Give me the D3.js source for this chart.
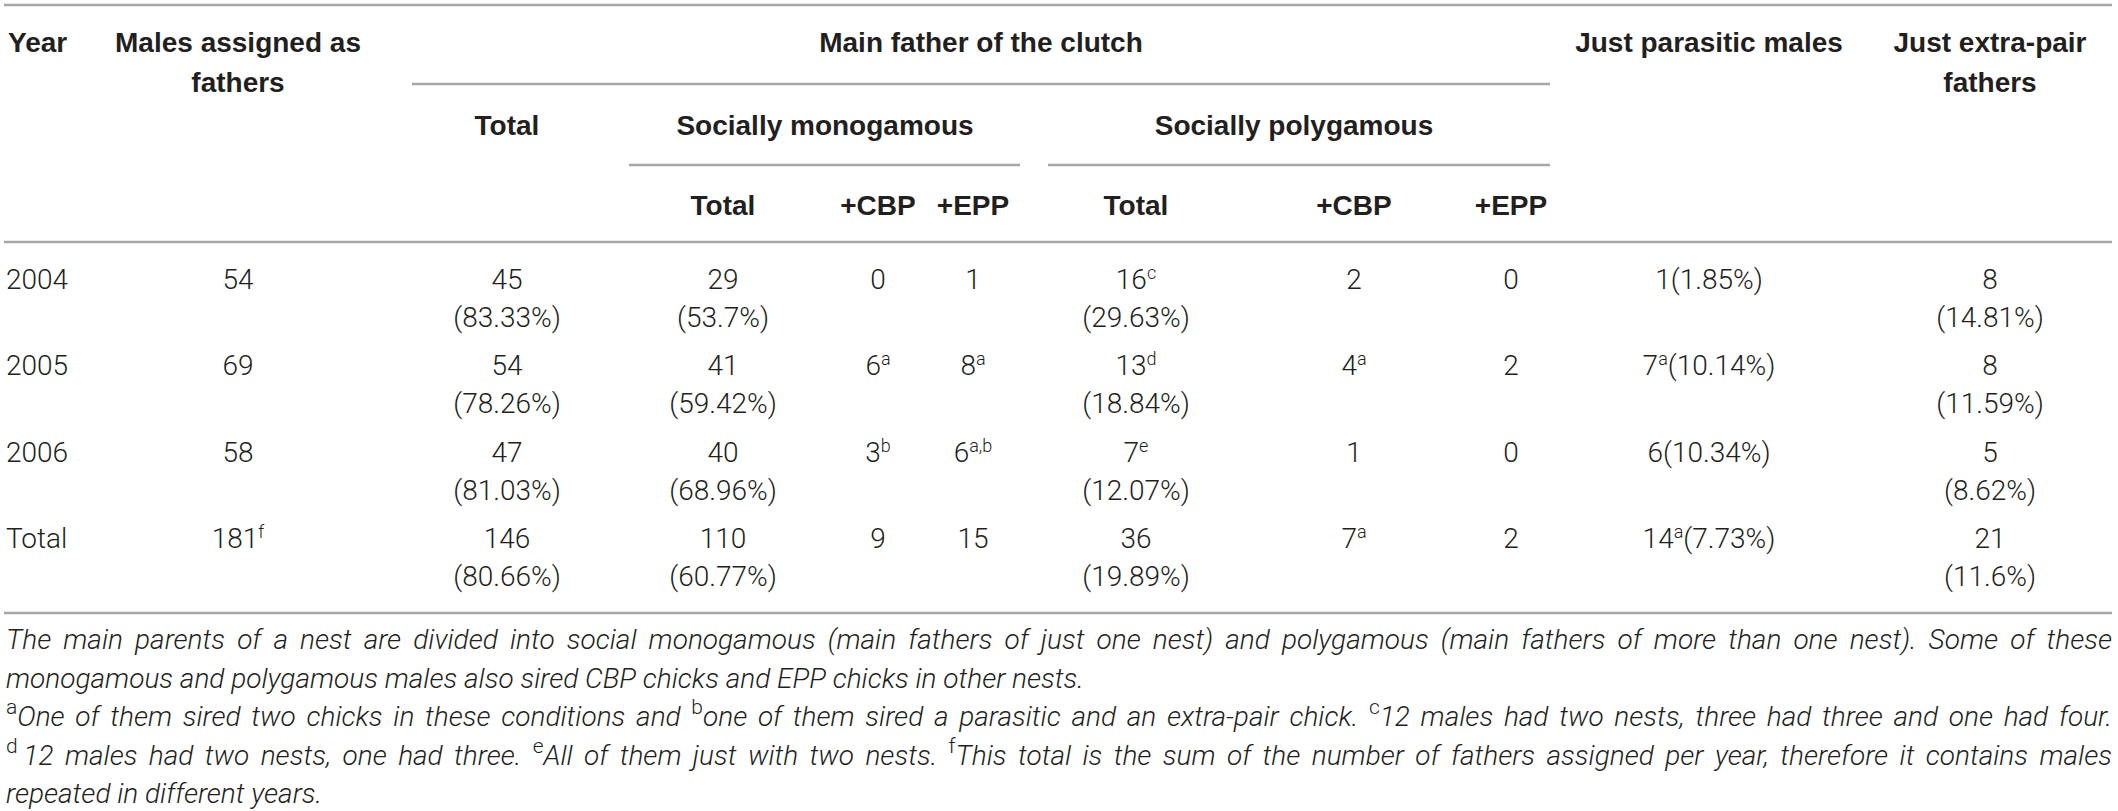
<!DOCTYPE html>
<html>
<head>
<meta charset="utf-8">
<script src="https://cdn.jsdelivr.net/npm/d3@7/dist/d3.min.js"></script>
<style>
body { margin: 0; background: #fff; }
text { fill: #231f20; }
.hd { font-family: "Liberation Sans", Arial, sans-serif; font-weight: 700; font-size: 28px; }
.bd { font-family: Roboto, "Liberation Sans", sans-serif; font-weight: 300; font-size: 28px; }
.ft { font-family: Roboto, "Liberation Sans", sans-serif; font-weight: 300; font-style: italic; font-size: 28px; }
.sup { font-style: normal; }
.rule { stroke: #a6a6a6; stroke-width: 2.5; }
</style>
</head>
<body>
<svg id="chart"></svg>
<script>
// ---- data ----
var years = ["2004", "2005", "2006", "Total"];

var males         = ["54", "69", "58", "181"];
var malesSup      = ["", "", "", "f"];
var mainTotal     = ["45", "54", "47", "146"];
var mainTotalPct  = ["83.33%", "78.26%", "81.03%", "80.66%"];
var monoTotal     = ["29", "41", "40", "110"];
var monoTotalPct  = ["53.7%", "59.42%", "68.96%", "60.77%"];
var monoCBP       = ["0", "6", "3", "9"];
var monoCBPSup    = ["", "a", "b", ""];
var monoEPP       = ["1", "8", "6", "15"];
var monoEPPSup    = ["", "a", "a,b", ""];
var polyTotal     = ["16", "13", "7", "36"];
var polyTotalSup  = ["c", "d", "e", ""];
var polyTotalPct  = ["29.63%", "18.84%", "12.07%", "19.89%"];
var polyCBP       = ["2", "4", "1", "7"];
var polyCBPSup    = ["", "a", "", "a"];
var polyEPP       = ["0", "2", "0", "2"];
var parasitic     = ["1", "7", "6", "14"];
var parasiticSup  = ["", "a", "", "a"];
var parasiticPct  = ["1.85%", "10.14%", "10.34%", "7.73%"];
var extraPair     = ["8", "8", "5", "21"];
var extraPairPct  = ["14.81%", "11.59%", "8.62%", "11.6%"];

var headTop    = ["Year", "Males assigned as", "Main father of the clutch", "Just parasitic males", "Just extra-pair"];
var headSecond = ["fathers", "fathers"];
var headGroups = ["Total", "Socially monogamous", "Socially polygamous"];
var headSub    = ["Total", "+CBP", "+EPP", "Total", "+CBP", "+EPP"];

// footnote lines as [superscript, text] pieces
var notes = [
  [["", "The main parents of a nest are divided into social monogamous (main fathers of just one nest) and polygamous (main fathers of more than one nest). Some of these"]],
  [["", "monogamous and polygamous males also sired CBP chicks and EPP chicks in other nests."]],
  [["a", "One of them sired two chicks in these conditions and "], ["b", "one of them sired a parasitic and an extra-pair chick. "], ["c", "12 males had two nests, three had three and one had four."]],
  [["d", "\u200912 males had two nests, one had three. "], ["e", "All of them just with two nests. "], ["f", "This total is the sum of the number of fathers assigned per year, therefore it contains males"]],
  [["", "repeated in different years."]]
];
var notesJustified = [true, false, true, true, false];

// ---- layout ----
var W = 2118, H = 811;
var left = 6, right = 2112;

var svg = d3.select('#chart')
    .attr('width', W)
    .attr('height', H);

var colKeys = ["males", "mainTotal", "monoTotal", "monoCBP", "monoEPP", "polyTotal", "polyCBP", "polyEPP", "parasitic", "extraPair"];
var x = d3.scaleOrdinal()
    .domain(colKeys)
    .range([238, 507, 723, 878, 973, 1136, 1354, 1511, 1709, 1990]);

var y = d3.scalePoint()
    .domain(years)
    .range([289, 548]);

var pctGap = 38;

// build cells from the arrays
var columns = {
  males:     {v: males, sup: malesSup},
  mainTotal: {v: mainTotal, pct: mainTotalPct},
  monoTotal: {v: monoTotal, pct: monoTotalPct},
  monoCBP:   {v: monoCBP, sup: monoCBPSup},
  monoEPP:   {v: monoEPP, sup: monoEPPSup},
  polyTotal: {v: polyTotal, sup: polyTotalSup, pct: polyTotalPct},
  polyCBP:   {v: polyCBP, sup: polyCBPSup},
  polyEPP:   {v: polyEPP},
  parasitic: {v: parasitic, sup: parasiticSup, inline: parasiticPct},
  extraPair: {v: extraPair, pct: extraPairPct}
};

var cells = [];
colKeys.forEach(function(k) {
  var c = columns[k];
  years.forEach(function(yr, i) {
    cells.push({
      col: k, year: yr, v: c.v[i],
      sup: c.sup ? c.sup[i] : "",
      pct: c.pct ? c.pct[i] : "",
      inline: c.inline ? c.inline[i] : ""
    });
  });
});

// ---- rules ----
var rules = [
  {x1: left - 2, x2: right, y: 5},
  {x1: 412, x2: 1550, y: 84},
  {x1: 629, x2: 1020, y: 165},
  {x1: 1048, x2: 1550, y: 165},
  {x1: left - 2, x2: right, y: 242},
  {x1: left - 2, x2: right, y: 613}
];
svg.selectAll('line.rule')
    .data(rules)
    .enter()
    .append('line')
    .attr('class', 'rule')
    .attr('x1', function(d) { return d.x1; })
    .attr('x2', function(d) { return d.x2; })
    .attr('y1', function(d) { return d.y; })
    .attr('y2', function(d) { return d.y; });

// ---- header ----
var topPos = [left + 2, x("males"), 981, x("parasitic"), x("extraPair")];
svg.selectAll('text.top')
    .data(headTop)
    .enter()
    .append('text')
    .attr('class', 'hd top')
    .attr('x', function(d, i) { return topPos[i]; })
    .attr('y', 52)
    .attr('text-anchor', function(d, i) { return i === 0 ? 'start' : 'middle'; })
    .text(function(d) { return d; });

var secondPos = [x("males"), x("extraPair")];
svg.selectAll('text.second')
    .data(headSecond)
    .enter()
    .append('text')
    .attr('class', 'hd second')
    .attr('x', function(d, i) { return secondPos[i]; })
    .attr('y', 92)
    .attr('text-anchor', 'middle')
    .text(function(d) { return d; });

var groupPos = [x("mainTotal"), 825, 1294];
svg.selectAll('text.group')
    .data(headGroups)
    .enter()
    .append('text')
    .attr('class', 'hd group')
    .attr('x', function(d, i) { return groupPos[i]; })
    .attr('y', 135)
    .attr('text-anchor', 'middle')
    .text(function(d) { return d; });

var subKeys = ["monoTotal", "monoCBP", "monoEPP", "polyTotal", "polyCBP", "polyEPP"];
svg.selectAll('text.sub')
    .data(headSub)
    .enter()
    .append('text')
    .attr('class', 'hd sub')
    .attr('x', function(d, i) { return x(subKeys[i]); })
    .attr('y', 215)
    .attr('text-anchor', 'middle')
    .text(function(d) { return d; });

// ---- body ----
svg.selectAll('text.year')
    .data(years)
    .enter()
    .append('text')
    .attr('class', 'bd year')
    .attr('x', left)
    .attr('y', function(d) { return y(d); })
    .text(function(d) { return d; });

var cell = svg.selectAll('g.cell')
    .data(cells)
    .enter()
    .append('g')
    .attr('class', 'cell');

var main = cell.append('text')
    .attr('class', 'bd')
    .attr('x', function(d) { return x(d.col); })
    .attr('y', function(d) { return y(d.year); })
    .attr('text-anchor', 'middle');

main.append('tspan').text(function(d) { return d.v; });
main.filter(function(d) { return d.sup; })
    .append('tspan')
    .attr('font-size', '18px')
    .attr('baseline-shift', '10px')
    .text(function(d) { return d.sup; });
main.filter(function(d) { return d.inline; })
    .append('tspan')
    .text(function(d) { return '(' + d.inline + ')'; });

cell.filter(function(d) { return d.pct; })
    .append('text')
    .attr('class', 'bd')
    .attr('x', function(d) { return x(d.col); })
    .attr('y', function(d) { return y(d.year) + pctGap; })
    .attr('text-anchor', 'middle')
    .text(function(d) { return '(' + d.pct + ')'; });

// ---- footnotes ----
var noteY = d3.scalePoint()
    .domain(d3.range(notes.length))
    .range([649, 803]);

var note = svg.selectAll('text.note')
    .data(notes)
    .enter()
    .append('text')
    .attr('class', 'ft note')
    .attr('x', left)
    .attr('y', function(d, i) { return noteY(i); });

note.each(function(line) {
  var t = d3.select(this);
  line.forEach(function(p) {
    if (p[0]) {
      t.append('tspan')
        .attr('class', 'sup')
        .attr('font-size', '21px')
        .attr('baseline-shift', '12px')
        .text(p[0]);
    }
    t.append('tspan').text(p[1]);
  });
});

// justify the full lines by spreading the word gaps
note.each(function(line, i) {
  if (!notesJustified[i]) return;
  var natural = this.getComputedTextLength();
  var gaps = line.map(function(p) { return p[1]; }).join('').split(' ').length - 1;
  var extra = (right - left - natural) / gaps;
  d3.select(this).style('word-spacing', extra + 'px');
});
</script>
</body>
</html>
